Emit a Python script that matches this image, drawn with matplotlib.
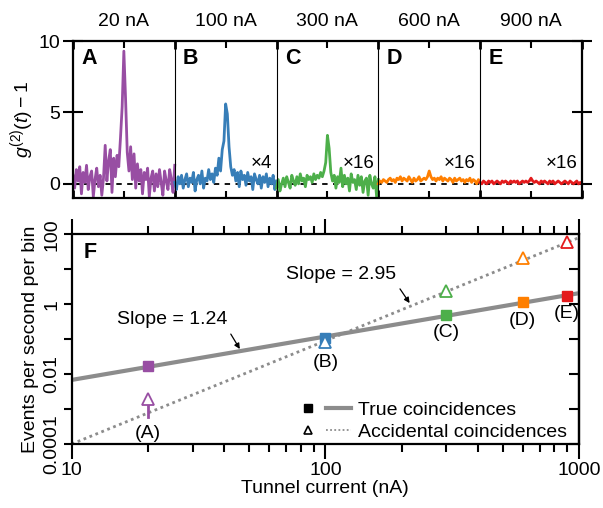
import numpy as np
import matplotlib
matplotlib.use('Agg')
import matplotlib.pyplot as plt
from matplotlib.legend_handler import HandlerTuple
from matplotlib.lines import Line2D
from matplotlib.ticker import LogLocator, NullFormatter, FixedLocator

plt.rcParams['font.family'] = ['Liberation Sans', 'DejaVu Sans']
plt.rcParams['mathtext.fontset'] = 'custom'
plt.rcParams['mathtext.rm'] = 'Liberation Sans'
plt.rcParams['mathtext.it'] = 'Liberation Sans:italic'
plt.rcParams['font.size'] = 14

# g2 traces (already scaled), one per current
panel_titles = ['20 nA', '100 nA', '300 nA', '600 nA', '900 nA']
panel_letters = ['A', 'B', 'C', 'D', 'E']
scale_labels = ['', '×4', '×16', '×16', '×16']
colors = ['#984ea3', '#377eb8', '#4daf4a', '#ff7f00', '#e41a1c']

g2_A = [0.6, -0.3, 1.0, 0.2, 1.2, -0.7, 0.8, 0.1, 1.3, -0.4, 0.5, 0.9, -0.9, 0.3, 1.1,
        -0.2, 0.6, -0.8, 0.4, 2.7, 0.2, 1.6, 2.4, -0.6, 1.8, 0.5, 2.0, 1.2, 3.2, 5.4,
        9.3, 6.0, 2.2, 0.9, 2.6, 0.3, 2.1, -0.3, 1.4, 0.2, 1.0, -0.7, 0.8, 0.3, 1.1,
        -0.9, 0.4, 0.9, -0.5, 0.7, -0.2, 1.0, 0.1, -0.8, 0.9, 0.2, -0.4, 1.0, 0.3, -0.6, 1.3]
g2_B = [0.1, -0.4, 0.5, 0.0, 0.6, -0.3, 0.3, 0.7, -0.2, 0.4, 0.1, 0.8, -0.5, 0.3, 0.6,
        0.0, 0.9, -0.3, 0.4, 0.2, 1.0, 0.3, 0.7, 0.1, 1.1, 0.6, 1.8, 0.9, 2.4, 3.0,
        5.6, 4.9, 2.6, 1.2, 0.6, 1.0, 0.2, 0.8, -0.2, 0.9, 0.3, 0.6, -0.1, 0.8, 0.2,
        0.5, -0.4, 0.7, 0.3, 0.0, 0.6, -0.3, 0.5, 0.1, 0.7, -0.2, 0.4, 0.0, 0.6, -0.4, 0.2]
g2_C = [-0.3, 0.3, -0.5, 0.0, 0.4, -0.2, 0.5, 0.1, -0.3, 0.6, 0.2, -0.1, 0.5, 0.0, 0.7,
        0.2, 0.4, -0.2, 0.6, 0.3, 0.5, 0.1, 0.7, 0.3, 0.6, 0.4, 0.8, 0.5, 0.9, 1.5,
        3.4, 2.5, 0.8, 0.2, 0.6, -0.3, 0.5, 0.1, 1.1, -0.2, 0.6, 0.0, 0.4, -0.5, 0.7,
        0.1, 0.3, -0.4, 0.6, -0.1, 0.5, -0.6, 0.2, 0.4, -0.8, 0.6, 0.0, -0.3, 0.5, -0.9, 0.3]
g2_D = [0.0, 0.2, 0.1, 0.3, 0.2, 0.1, 0.3, 0.4, 0.2, 0.3, 0.1, 0.4, 0.3, 0.5, 0.2,
        0.4, 0.3, 0.2, 0.5, 0.3, 0.1, 0.4, 0.2, 0.3, 0.5, 0.2, 0.3, 0.4, 0.3, 0.5,
        0.9, 0.5, 0.3, 0.4, 0.2, 0.4, 0.3, 0.5, 0.2, 0.4, 0.3, 0.2, 0.4, 0.3, 0.1,
        0.4, 0.2, 0.3, 0.4, 0.2, 0.3, 0.1, 0.3, 0.2, 0.4, 0.1, 0.3, 0.2, 0.0, 0.3, 0.1]
g2_E = [0.1, 0.0, 0.2, 0.1, 0.0, 0.2, 0.1, 0.2, 0.0, 0.1, 0.2, 0.1, 0.0, 0.2, 0.1,
        0.2, 0.1, 0.0, 0.2, 0.1, 0.2, 0.1, 0.2, 0.0, 0.1, 0.2, 0.1, 0.2, 0.1, 0.2,
        0.4, 0.2, 0.1, 0.2, 0.1, 0.0, 0.2, 0.1, 0.2, 0.1, 0.0, 0.2, 0.1, 0.2, 0.0,
        0.1, 0.2, 0.1, 0.0, 0.1, 0.2, 0.1, 0.0, 0.2, 0.1, 0.0, 0.1, 0.2, 0.0, 0.1, 0.0]
traces = [g2_A, g2_B, g2_C, g2_D, g2_E]

# panel F data
currents = [20, 100, 300, 600, 900]
true_rate = [0.017, 0.107, 0.49, 1.15, 1.7]
acc_rate = [0.0019, 0.082, 2.35, 20.5, 59]
point_labels = ['(A)', '(B)', '(C)', '(D)', '(E)']
label_y = [0.0002, 0.022, 0.15, 0.35, 0.55]
slope_true, anchor_true = 1.24, 0.0068   # rate at 10 nA
slope_acc, anchor_acc = 2.95, 1e-4

fig = plt.figure(figsize=(6.03, 5.08), dpi=100)

# ---- top row: g2 traces ----
ax1 = fig.add_axes([0.121, 0.610, 0.844, 0.309])
ax1.axhline(0, color='k', lw=1.3, ls=(0, (3, 3)), zorder=1)
for i, tr in enumerate(traces):
    x = i + np.linspace(0.0, 1.0, len(tr))
    ax1.plot(x, tr, color=colors[i], lw=2.0, zorder=2)
    if i > 0:
        ax1.axvline(i, color='k', lw=0.8, zorder=3)
    ax1.text(i + 0.5, 11.4, panel_titles[i], ha='center', va='center')
    ax1.text(i + 0.08, 8.8, panel_letters[i], fontsize=15.5, fontweight='bold',
             ha='left', va='center')
    if scale_labels[i]:
        ax1.text(i + 0.96, 1.45, scale_labels[i], ha='right', va='center', fontsize=13.5)
ax1.set_xlim(0, 5)
ax1.set_ylim(-1, 10)
ax1.set_yticks([0, 5, 10])
ax1.xaxis.set_major_locator(FixedLocator([0, 1, 2, 3, 4, 5]))
ax1.xaxis.set_minor_locator(FixedLocator([0.5, 1.5, 2.5, 3.5, 4.5]))
ax1.tick_params(axis='x', which='both', direction='in', top=True, labelbottom=False)
ax1.tick_params(axis='x', which='major', length=6, width=2)
ax1.tick_params(axis='x', which='minor', length=5, width=1.5)
ax1.tick_params(axis='y', direction='inout', length=14, width=1.5, right=True, pad=2)
ax1.set_ylabel('$g^{(2)}(t) - 1$', labelpad=2)
for s in ax1.spines.values():
    s.set_linewidth(1.6)

# ---- bottom: rates vs current ----
ax2 = fig.add_axes([0.119, 0.126, 0.841, 0.413])
ax2.set_xscale('log')
ax2.set_yscale('log')
xl = np.array([10, 1000])
ax2.plot(xl, anchor_true * (xl / 10) ** slope_true, color='#8c8c8c', lw=3, zorder=2)
ax2.plot(xl, anchor_acc * (xl / 10) ** slope_acc, color='#8c8c8c', lw=2,
         ls=(0, (1, 1.3)), zorder=2)
ax2.plot([20, 20], [0.0006, 0.0016], color=colors[0], lw=2, zorder=3)
for i in range(len(currents)):
    ax2.plot(currents[i], true_rate[i], 's', color=colors[i], ms=7, zorder=4)
    ax2.plot(currents[i], acc_rate[i], '^', mfc='white', mec=colors[i], ms=8,
             mew=1.3, zorder=4)
    ax2.text(currents[i], label_y[i], point_labels[i], ha='center', va='center')

arrow = dict(arrowstyle='-|>', color='k', lw=0.9, mutation_scale=8,
             shrinkA=3, shrinkB=0, relpos=(1.0, 0.0))
ax2.annotate('Slope = 1.24', xy=(46, 0.052), xytext=(24.8, 0.37),
             ha='center', va='center', arrowprops=arrow)
ax2.annotate('Slope = 2.95', xy=(215, 1.07), xytext=(115, 7.2),
             ha='center', va='center', arrowprops=arrow)
ax2.text(0.024, 0.914, 'F', transform=ax2.transAxes, fontsize=15.5,
         fontweight='bold', ha='left', va='center')

ax2.set_xlim(10, 1000)
ax2.set_ylim(1e-4, 100)
ax2.set_xticks([10, 100, 1000])
ax2.set_xticklabels(['10', '100', '1000'])
ax2.xaxis.set_minor_locator(LogLocator(base=10, subs=np.arange(2, 10)))
ax2.xaxis.set_minor_formatter(NullFormatter())
ax2.set_yticks([1e-4, 1e-3, 1e-2, 1e-1, 1, 10, 100])
ax2.set_yticklabels(['0.0001', '', '0.01', '', '1', '', '100'],
                    rotation=90, va='center')
ax2.yaxis.set_minor_locator(FixedLocator([]))
ax2.tick_params(axis='x', which='major', direction='out', length=11, width=1.5,
                top=True, pad=2)
ax2.tick_params(axis='x', which='minor', direction='out', length=6, width=1.5,
                top=True)
ax2.tick_params(axis='y', direction='out', length=6, width=1.5, pad=2)
sec = ax2.secondary_yaxis('right')
sec.set_yticks([1e-4, 1e-3, 1e-2, 1e-1, 1, 10, 100])
sec.yaxis.set_minor_locator(FixedLocator([]))
sec.tick_params(direction='in', length=7, width=1.5, labelright=False)
sec.spines['right'].set_linewidth(1.6)
for s in ax2.spines.values():
    s.set_linewidth(1.6)
ax2.set_xlabel('Tunnel current (nA)', labelpad=1)
ax2.set_ylabel('Events per second per bin', labelpad=3)

h_sq = Line2D([], [], marker='s', color='k', ls='none', ms=5.5)
h_tl = Line2D([], [], color='#8c8c8c', lw=3)
h_tr = Line2D([], [], marker='^', mfc='white', mec='k', ls='none', ms=6, mew=1.2)
h_al = Line2D([], [], color='#8c8c8c', lw=1.3, ls=(0, (1, 1.3)))
ax2.legend([(h_sq, h_tl), (h_tr, h_al)], ['True coincidences', 'Accidental coincidences'],
           handler_map={tuple: HandlerTuple(ndivide=None, pad=0.3)},
           handlelength=2.85, handletextpad=0.36, labelspacing=0.2, fontsize=14,
           frameon=False, loc='lower right', bbox_to_anchor=(1.0, -0.04),
           borderaxespad=0.2)

fig.savefig('out.png', dpi=100)
